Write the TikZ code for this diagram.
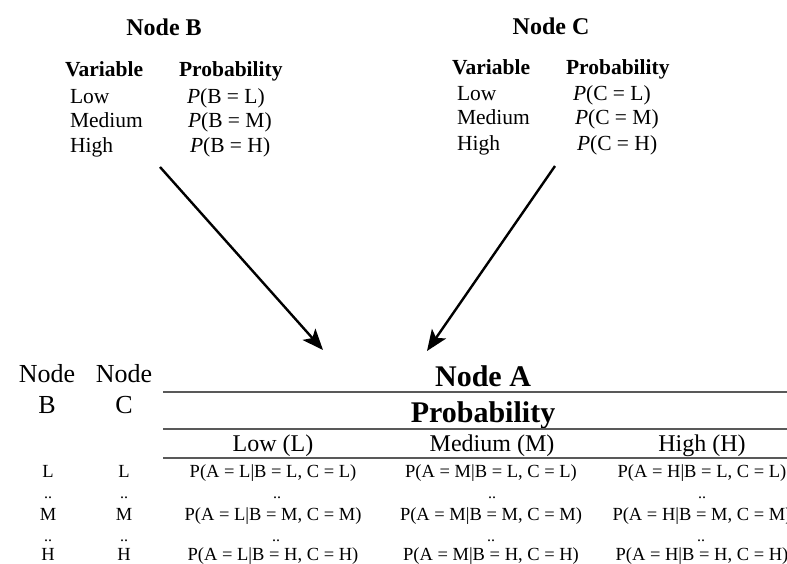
\documentclass[tikz,border=0pt]{standalone}
\usepackage{fontspec}
\setmainfont{Liberation Serif}
\usetikzlibrary{arrows.meta}
\newcommand{\fsz}[1]{\fontsize{#1}{#1}\selectfont}
\begin{document}
\begin{tikzpicture}[x=1pt,y=-1pt,
  txt/.style={inner sep=0pt,outer sep=0pt},
  hdr/.style={txt,anchor=base,font=\fsz{24}\bfseries},
  tbl/.style={txt,anchor=base west,font=\fsz{21.5}},
  tblb/.style={txt,anchor=base west,font=\fsz{21.5}\bfseries},
  big/.style={txt,anchor=base,font=\fsz{30}\bfseries},
  side/.style={txt,anchor=base,font=\fsz{26}},
  colh/.style={txt,anchor=base,font=\fsz{24}},
  cell/.style={txt,anchor=base,font=\fsz{18.5}},
  dots/.style={txt,anchor=base,font=\fsz{16}},
  rule/.style={draw=black!65,line width=1.1pt},
  link/.style={line width=2.4pt,-{Stealth[length=21pt,width=17pt,inset=5pt]}}]
\useasboundingbox (0,0) rectangle (787,564);
% Node B table
\node[hdr] (hB) at (164,36) {Node B};
\node[tblb] (vB) at (65,77) {Variable};
\node[tblb] (pB) at (179,77) {Probability};
\node[tbl] (lB) at (70,104) {Low};
\node[tbl] (mB) at (70,128) {Medium};
\node[tbl] (hiB) at (70,153) {High};
\node[tbl] (plB) at (187,104) {\textit{P}(B = L)};
\node[tbl] (pmB) at (188,128) {\textit{P}(B = M)};
\node[tbl] (phB) at (190,153) {\textit{P}(B = H)};
% Node C table
\node[hdr] (hC) at (551,35) {Node C};
\node[tblb] (vC) at (452,75) {Variable};
\node[tblb] (pC) at (566,75) {Probability};
\node[tbl] (lC) at (457,101) {Low};
\node[tbl] (mC) at (457,125) {Medium};
\node[tbl] (hiC) at (457,151) {High};
\node[tbl] (plC) at (573,101) {\textit{P}(C = L)};
\node[tbl] (pmC) at (575,125) {\textit{P}(C = M)};
\node[tbl] (phC) at (577,151) {\textit{P}(C = H)};
% arrows
\coordinate (sB) at (160,167);
\coordinate (sC) at (555,166);
\coordinate (tB) at (323,350);
\coordinate (tC) at (427,351);
\draw[link] (sB) -- (tB);
\draw[link] (sC) -- (tC);
% Node A table
\node[side] (nb1) at (47,382) {Node};
\node[side] (nb2) at (47,413) {B};
\node[side] (nc1) at (124,382) {Node};
\node[side] (nc2) at (124,413) {C};
\node[big] (nA) at (483,386) {Node A};
\node[big] (prA) at (483,422) {Probability};
\coordinate (r1a) at (163,392); \coordinate (r1b) at (800,392);
\coordinate (r2a) at (163,429); \coordinate (r2b) at (800,429);
\coordinate (r3a) at (163,458); \coordinate (r3b) at (800,458);
\draw[rule] (r1a) -- (r1b);
\draw[rule] (r2a) -- (r2b);
\draw[rule] (r3a) -- (r3b);
\node[colh] (cL) at (273,451) {Low (L)};
\node[colh] (cM) at (492,451) {Medium (M)};
\node[colh] (cH) at (702,451) {High (H)};
% rows
\node[cell] (b1) at (48,477) {L};
\node[cell] (c1) at (124,477) {L};
\node[dots] (bd1) at (48,498) {..};
\node[dots] (cd1) at (124,498) {..};
\node[cell] (b2) at (48,520) {M};
\node[cell] (c2) at (124,520) {M};
\node[dots] (bd2) at (48,541) {..};
\node[dots] (cd2) at (124,541) {..};
\node[cell] (b3) at (48,560) {H};
\node[cell] (c3) at (124,560) {H};
\node[cell] (aLL) at (273,477) {P(A = L|B = L, C = L)};
\node[cell] (aML) at (491,477) {P(A = M|B = L, C = L)};
\node[cell] (aHL) at (702,477) {P(A = H|B = L, C = L)};
\node[dots] (d1) at (277,498) {..};
\node[dots] (d2) at (492,498) {..};
\node[dots] (d3) at (702,498) {..};
\node[cell] (aLM) at (273,520) {P(A = L|B = M, C = M)};
\node[cell] (aMM) at (491,520) {P(A = M|B = M, C = M)};
\node[cell] (aHM) at (702,520) {P(A = H|B = M, C = M)};
\node[dots] (d4) at (276,541) {..};
\node[dots] (d5) at (491,541) {..};
\node[dots] (d6) at (701,541) {..};
\node[cell] (aLH) at (273,560) {P(A = L|B = H, C = H)};
\node[cell] (aMH) at (491,560) {P(A = M|B = H, C = H)};
\node[cell] (aHH) at (702,560) {P(A = H|B = H, C = H)};
\end{tikzpicture}
\end{document}
